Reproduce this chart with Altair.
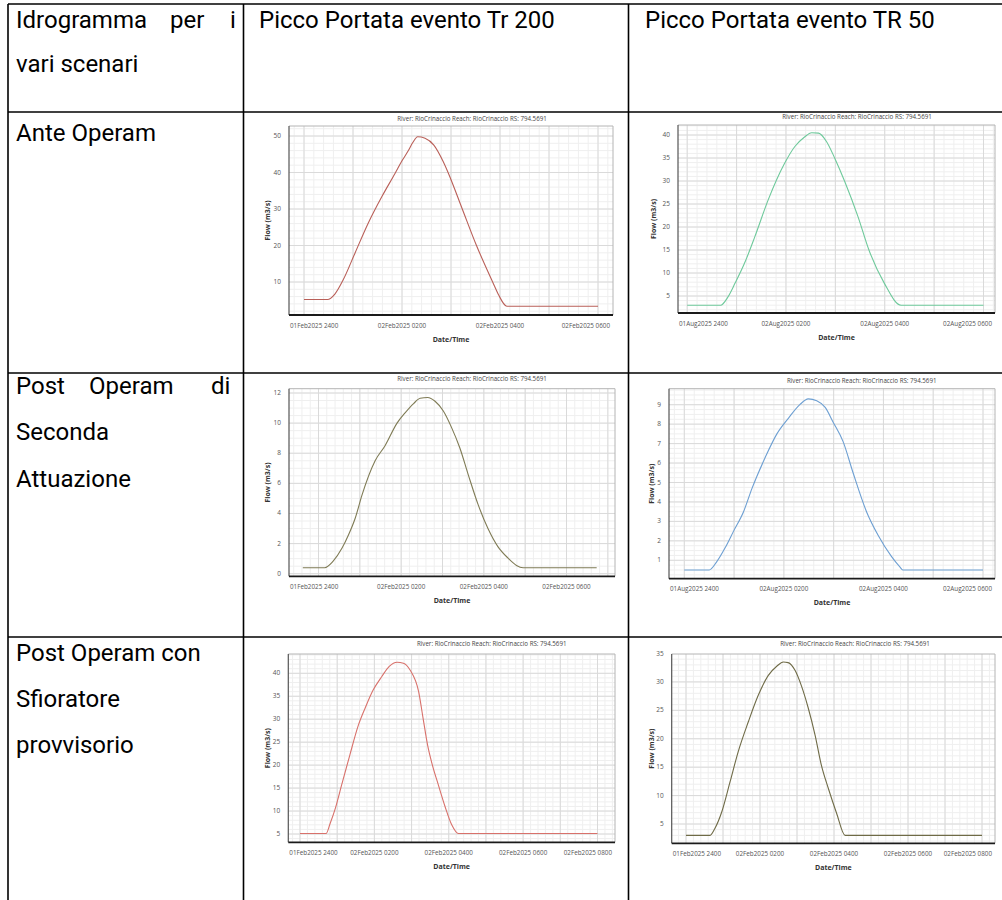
import altair as alt
import pandas as pd
import math

# ---------------- data ----------------
# hours after 01Feb/01Aug 2400 ; flow in m3/s
h_ante_200 = [0.0, 0.48, 0.63, 0.80, 1.04, 1.31, 1.59, 1.86, 2.00, 2.13, 2.22, 2.32, 2.47, 2.65, 2.84, 2.94, 3.23, 3.52, 3.85, 3.97, 4.14, 6.0]
q_ante_200 = [5.2, 5.2, 6.7, 10.6, 17.9, 26.1, 33.4, 39.8, 43.2, 46.0, 48.2, 49.8, 49.4, 47.5, 43.0, 40.0, 30.0, 20.0, 10.0, 6.5, 3.35, 3.35]

h_ante_50 = [0.0, 0.68, 0.82, 0.97, 1.16, 1.37, 1.64, 1.97, 2.18, 2.37, 2.52, 2.66, 2.82, 2.99, 3.19, 3.46, 3.68, 3.99, 4.33, 6.0]
q_ante_50 = [3.0, 3.0, 4.7, 7.8, 12.1, 17.9, 25.9, 33.8, 37.5, 39.5, 40.5, 40.4, 38.6, 34.9, 29.9, 22.2, 15.0, 7.8, 3.0, 3.0]

h_post2_200 = [-0.38, 0.15, 0.35, 0.57, 0.73, 0.89, 1.05, 1.37, 1.61, 1.90, 2.10, 2.30, 2.46, 2.64, 2.82, 3.02, 3.22, 3.42, 3.62, 3.86, 4.10, 4.34, 4.58, 4.79, 4.95, 6.73]
q_post2_200 = [0.4, 0.4, 0.82, 1.7, 2.6, 3.7, 5.2, 7.5, 8.5, 10.0, 10.7, 11.3, 11.65, 11.7, 11.45, 10.8, 9.7, 8.35, 6.6, 4.6, 3.0, 1.8, 1.05, 0.55, 0.4, 0.4]

h_post2_50 = [0.0, 0.50, 0.65, 0.82, 0.99, 1.19, 1.36, 1.62, 1.86, 2.09, 2.32, 2.49, 2.66, 2.83, 2.99, 3.19, 3.39, 3.66, 3.89, 4.16, 4.33, 4.39, 6.0]
q_post2_50 = [0.5, 0.5, 0.92, 1.64, 2.5, 3.5, 4.7, 6.26, 7.5, 8.3, 9.0, 9.3, 9.2, 8.86, 8.1, 7.1, 5.5, 3.5, 2.3, 1.2, 0.66, 0.5, 0.5]

h_sfio_200 = [0.0, 0.70, 0.81, 0.95, 1.12, 1.34, 1.57, 1.75, 1.97, 2.20, 2.40, 2.61, 2.78, 2.96, 3.19, 3.31, 3.43, 3.56, 3.72, 3.90, 4.08, 4.26, 8.0]
q_sfio_200 = [5.1, 5.1, 7.3, 10.6, 15.7, 22.2, 28.7, 32.4, 36.4, 39.3, 41.5, 42.4, 42.2, 40.7, 36.0, 30.2, 24.4, 20.0, 15.7, 11.0, 7.0, 5.1, 5.1]

h_sfio_50 = [0.0, 0.65, 0.78, 0.97, 1.19, 1.41, 1.68, 1.95, 2.22, 2.46, 2.63, 2.76, 2.95, 3.12, 3.30, 3.49, 3.66, 3.85, 4.07, 4.30, 8.0]
q_sfio_50 = [3.0, 3.0, 4.2, 7.2, 12.4, 17.7, 22.9, 27.6, 31.1, 32.8, 33.5, 33.4, 32.0, 29.3, 25.5, 20.6, 15.3, 11.2, 6.9, 3.0, 3.0]

x_ticks_6 = [0, 2, 4, 6]
x_ticks_8 = [0, 2, 4, 6, 8]
x_labels_feb6 = ["01Feb2025 2400", "02Feb2025 0200", "02Feb2025 0400", "02Feb2025 0600"]
x_labels_aug6 = ["01Aug2025 2400", "02Aug2025 0200", "02Aug2025 0400", "02Aug2025 0600"]
x_labels_feb8 = ["01Feb2025 2400", "02Feb2025 0200", "02Feb2025 0400", "02Feb2025 0600", "02Feb2025 0800"]

y_ticks_1 = [10, 20, 30, 40, 50]
y_ticks_2 = [5, 10, 15, 20, 25, 30, 35, 40]
y_ticks_3 = [0, 2, 4, 6, 8, 10, 12]
y_ticks_4 = [1, 2, 3, 4, 5, 6, 7, 8, 9]
y_ticks_5 = [5, 10, 15, 20, 25, 30, 35, 40]
y_ticks_6 = [5, 10, 15, 20, 25, 30, 35]

header_texts = ["Picco Portata evento Tr 200", "Picco Portata evento TR 50"]
chart_title = "River: RioCrinaccio  Reach: RioCrinaccio  RS: 794.5691"

FONT_T = "Roboto"
FONT_C = "Open Sans"
ONE = pd.DataFrame({"d": [0]})

layers = []


def rule(x1, y1, x2, y2, color="black", w=1.6):
    return alt.Chart(ONE).mark_rule(color=color, strokeWidth=w).encode(
        x=alt.value(x1), y=alt.value(y1), x2=alt.value(x2), y2=alt.value(y2))


def text(txt, x, y, size, align="left", font=FONT_T, color="black", weight="normal", angle=0):
    return alt.Chart(ONE).mark_text(
        text=txt, align=align, baseline="middle", font=font, fontSize=size,
        color=color, fontWeight=weight, angle=angle).encode(x=alt.value(x), y=alt.value(y))


# ---------------- table ----------------
layers += [
    rule(8, 4, 1002, 4),
    rule(8, 4, 8, 900),
    rule(243.5, 4, 243.5, 900),
    rule(628.5, 4, 628.5, 900),
    rule(8, 112, 1002, 112),
    rule(8, 373, 1002, 373),
    rule(8, 637, 1002, 637),
]
TS = 24
layers += [
    text("Idrogramma", 16, 21, TS), text("per", 170, 21, TS), text("i", 230, 21, TS),
    text("vari scenari", 16, 65, TS),
    text(header_texts[0], 259, 21, TS),
    text(header_texts[1], 645, 21, TS),
    text("Ante Operam", 16, 134, TS),
    text("Post", 16, 387, TS), text("Operam", 89, 387, TS), text("di", 211, 387, TS),
    text("Seconda", 16, 433, TS),
    text("Attuazione", 16, 480, TS),
    text("Post Operam con", 16, 654, TS),
    text("Sfioratore", 16, 700, TS),
    text("provvisorio", 16, 746, TS),
]


# ---------------- panels ----------------
def panel(h, q, color, xdom, xrng, ydom, yrng, frame, xticks, xlabels, last_flush,
          yticks, ystep_minor, title_xy, flow_x):
    L, R, T, B = frame
    sx = alt.Scale(domain=xdom, range=xrng, nice=False, zero=False)
    sy = alt.Scale(domain=ydom, range=yrng, nice=False, zero=False)

    def inv_x(px):
        return xdom[0] + (px - xrng[0]) * (xdom[1] - xdom[0]) / (xrng[1] - xrng[0])

    def inv_y(px):
        return ydom[0] + (px - yrng[0]) * (ydom[1] - ydom[0]) / (yrng[1] - yrng[0])

    def grid_vals(a, b, step):
        lo, hi = min(a, b), max(a, b)
        return [round(k * step, 6) for k in range(math.ceil(lo / step + 1e-9), math.floor(hi / step - 1e-9) + 1)]

    out = []
    xminor = grid_vals(inv_x(L), inv_x(R), 0.2)
    xmajor = grid_vals(inv_x(L), inv_x(R), 1.0)
    yminor = grid_vals(inv_y(B), inv_y(T), ystep_minor)
    ymajor = [v for v in yticks if min(inv_y(B), inv_y(T)) < v < max(inv_y(B), inv_y(T))]

    out.append(alt.Chart(pd.DataFrame({"g": xminor})).mark_rule(color="#efefef", strokeWidth=1).encode(
        x=alt.X("g:Q", scale=sx, axis=None), y=alt.value(T), y2=alt.value(B)))
    out.append(alt.Chart(pd.DataFrame({"g": yminor})).mark_rule(color="#efefef", strokeWidth=1).encode(
        y=alt.Y("g:Q", scale=sy, axis=None), x=alt.value(L), x2=alt.value(R)))
    out.append(alt.Chart(pd.DataFrame({"g": xmajor})).mark_rule(color="#dadada", strokeWidth=1).encode(
        x=alt.X("g:Q", scale=sx, axis=None), y=alt.value(T), y2=alt.value(B)))
    out.append(alt.Chart(pd.DataFrame({"g": ymajor})).mark_rule(color="#dadada", strokeWidth=1).encode(
        y=alt.Y("g:Q", scale=sy, axis=None), x=alt.value(L), x2=alt.value(R)))

    # frame
    out += [
        rule(L, T, R, T, "#b4b4b4", 1),
        rule(R, T, R, B, "#b4b4b4", 1),
        rule(L, T, L, B, "#555555", 1.2),
        rule(L, B, R, B, "#1a1a1a", 1.8),
    ]

    # series
    out.append(alt.Chart(pd.DataFrame({"h": h, "q": q})).mark_line(
        color=color, strokeWidth=1.1, interpolate="monotone").encode(
        x=alt.X("h:Q", scale=sx, axis=None), y=alt.Y("q:Q", scale=sy, axis=None)))

    # y tick labels
    out.append(alt.Chart(pd.DataFrame({"v": yticks, "lab": [str(v) for v in yticks]})).mark_text(
        align="right", baseline="middle", font=FONT_C, fontSize=6.5, color="#555555").encode(
        x=alt.value(L - 8), y=alt.Y("v:Q", scale=sy, axis=None), text="lab:N"))

    # x tick labels
    ly = B + 10.5
    out.append(text(xlabels[0], L + 1, ly, 6.3, "left", FONT_C, "#555555"))
    mid_end = len(xticks) - 1 if last_flush else len(xticks)
    out.append(alt.Chart(pd.DataFrame({"v": xticks[1:mid_end], "lab": xlabels[1:mid_end]})).mark_text(
        align="center", baseline="middle", font=FONT_C, fontSize=6.3, color="#555555").encode(
        x=alt.X("v:Q", scale=sx, axis=None), y=alt.value(ly), text="lab:N"))
    if last_flush:
        out.append(text(xlabels[-1], R - 3, ly, 6.3, "right", FONT_C, "#555555"))

    # titles
    out.append(text("Date/Time", (L + R) / 2, B + 24.5, 7, "center", FONT_C, "#333333", "bold"))
    out.append(text("Flow (m3/s)", flow_x, (T + B) / 2, 7, "center", FONT_C, "#333333", "bold", 270))
    out.append(text(chart_title, title_xy[0], title_xy[1], 6.2, "center", FONT_C, "#444444"))
    return out


layers += panel(h_ante_200, q_ante_200, "#b95f58", [0, 6], [304, 598], [10, 50], [282, 136],
                (289, 613, 126, 315), x_ticks_6, x_labels_feb6, True, y_ticks_1, 2, (472, 119), 268)
layers += panel(h_ante_50, q_ante_50, "#6ec99b", [0, 6], [687.2, 983.5], [5, 40], [296, 135],
                (678, 995, 125, 313), x_ticks_6, x_labels_aug6, True, y_ticks_2, 1, (857, 116.5), 654)
layers += panel(h_post2_200, q_post2_200, "#7f7b55", [0, 6], [318.5, 566.5], [0, 12], [573.7, 393],
                (289, 615, 388.7, 576.3), x_ticks_6, x_labels_feb6, False, y_ticks_3, 0.5, (472, 378.5), 268.3)
layers += panel(h_post2_50, q_post2_50, "#6d9fd2", [0, 6], [684.3, 983], [1, 9], [560.3, 404.7],
                (669, 995, 388.7, 578.7), x_ticks_6, x_labels_aug6, True, y_ticks_4, 0.25, (861.7, 380.5), 652.3)
layers += panel(h_sfio_200, q_sfio_200, "#d8716b", [0, 8], [300, 597.5], [5, 40], [834, 673.3],
                (288.3, 615, 654, 842.3), x_ticks_8, x_labels_feb8, True, y_ticks_5, 1, (491.7, 644), 268.3)
layers += panel(h_sfio_50, q_sfio_50, "#6f6b47", [0, 8], [686, 982], [5, 35], [824, 653.5],
                (671.7, 995, 654, 843.3), x_ticks_8, x_labels_feb8, True, y_ticks_6, 1, (855, 644), 651.7)

chart = alt.layer(*layers).resolve_scale(x="independent", y="independent").properties(
    width=1002, height=900, padding=0, autosize=alt.AutoSizeParams(type="none"), background="white"
).configure_view(stroke=None)

chart.save("out.html", embed_options={"renderer": "svg", "actions": False})
